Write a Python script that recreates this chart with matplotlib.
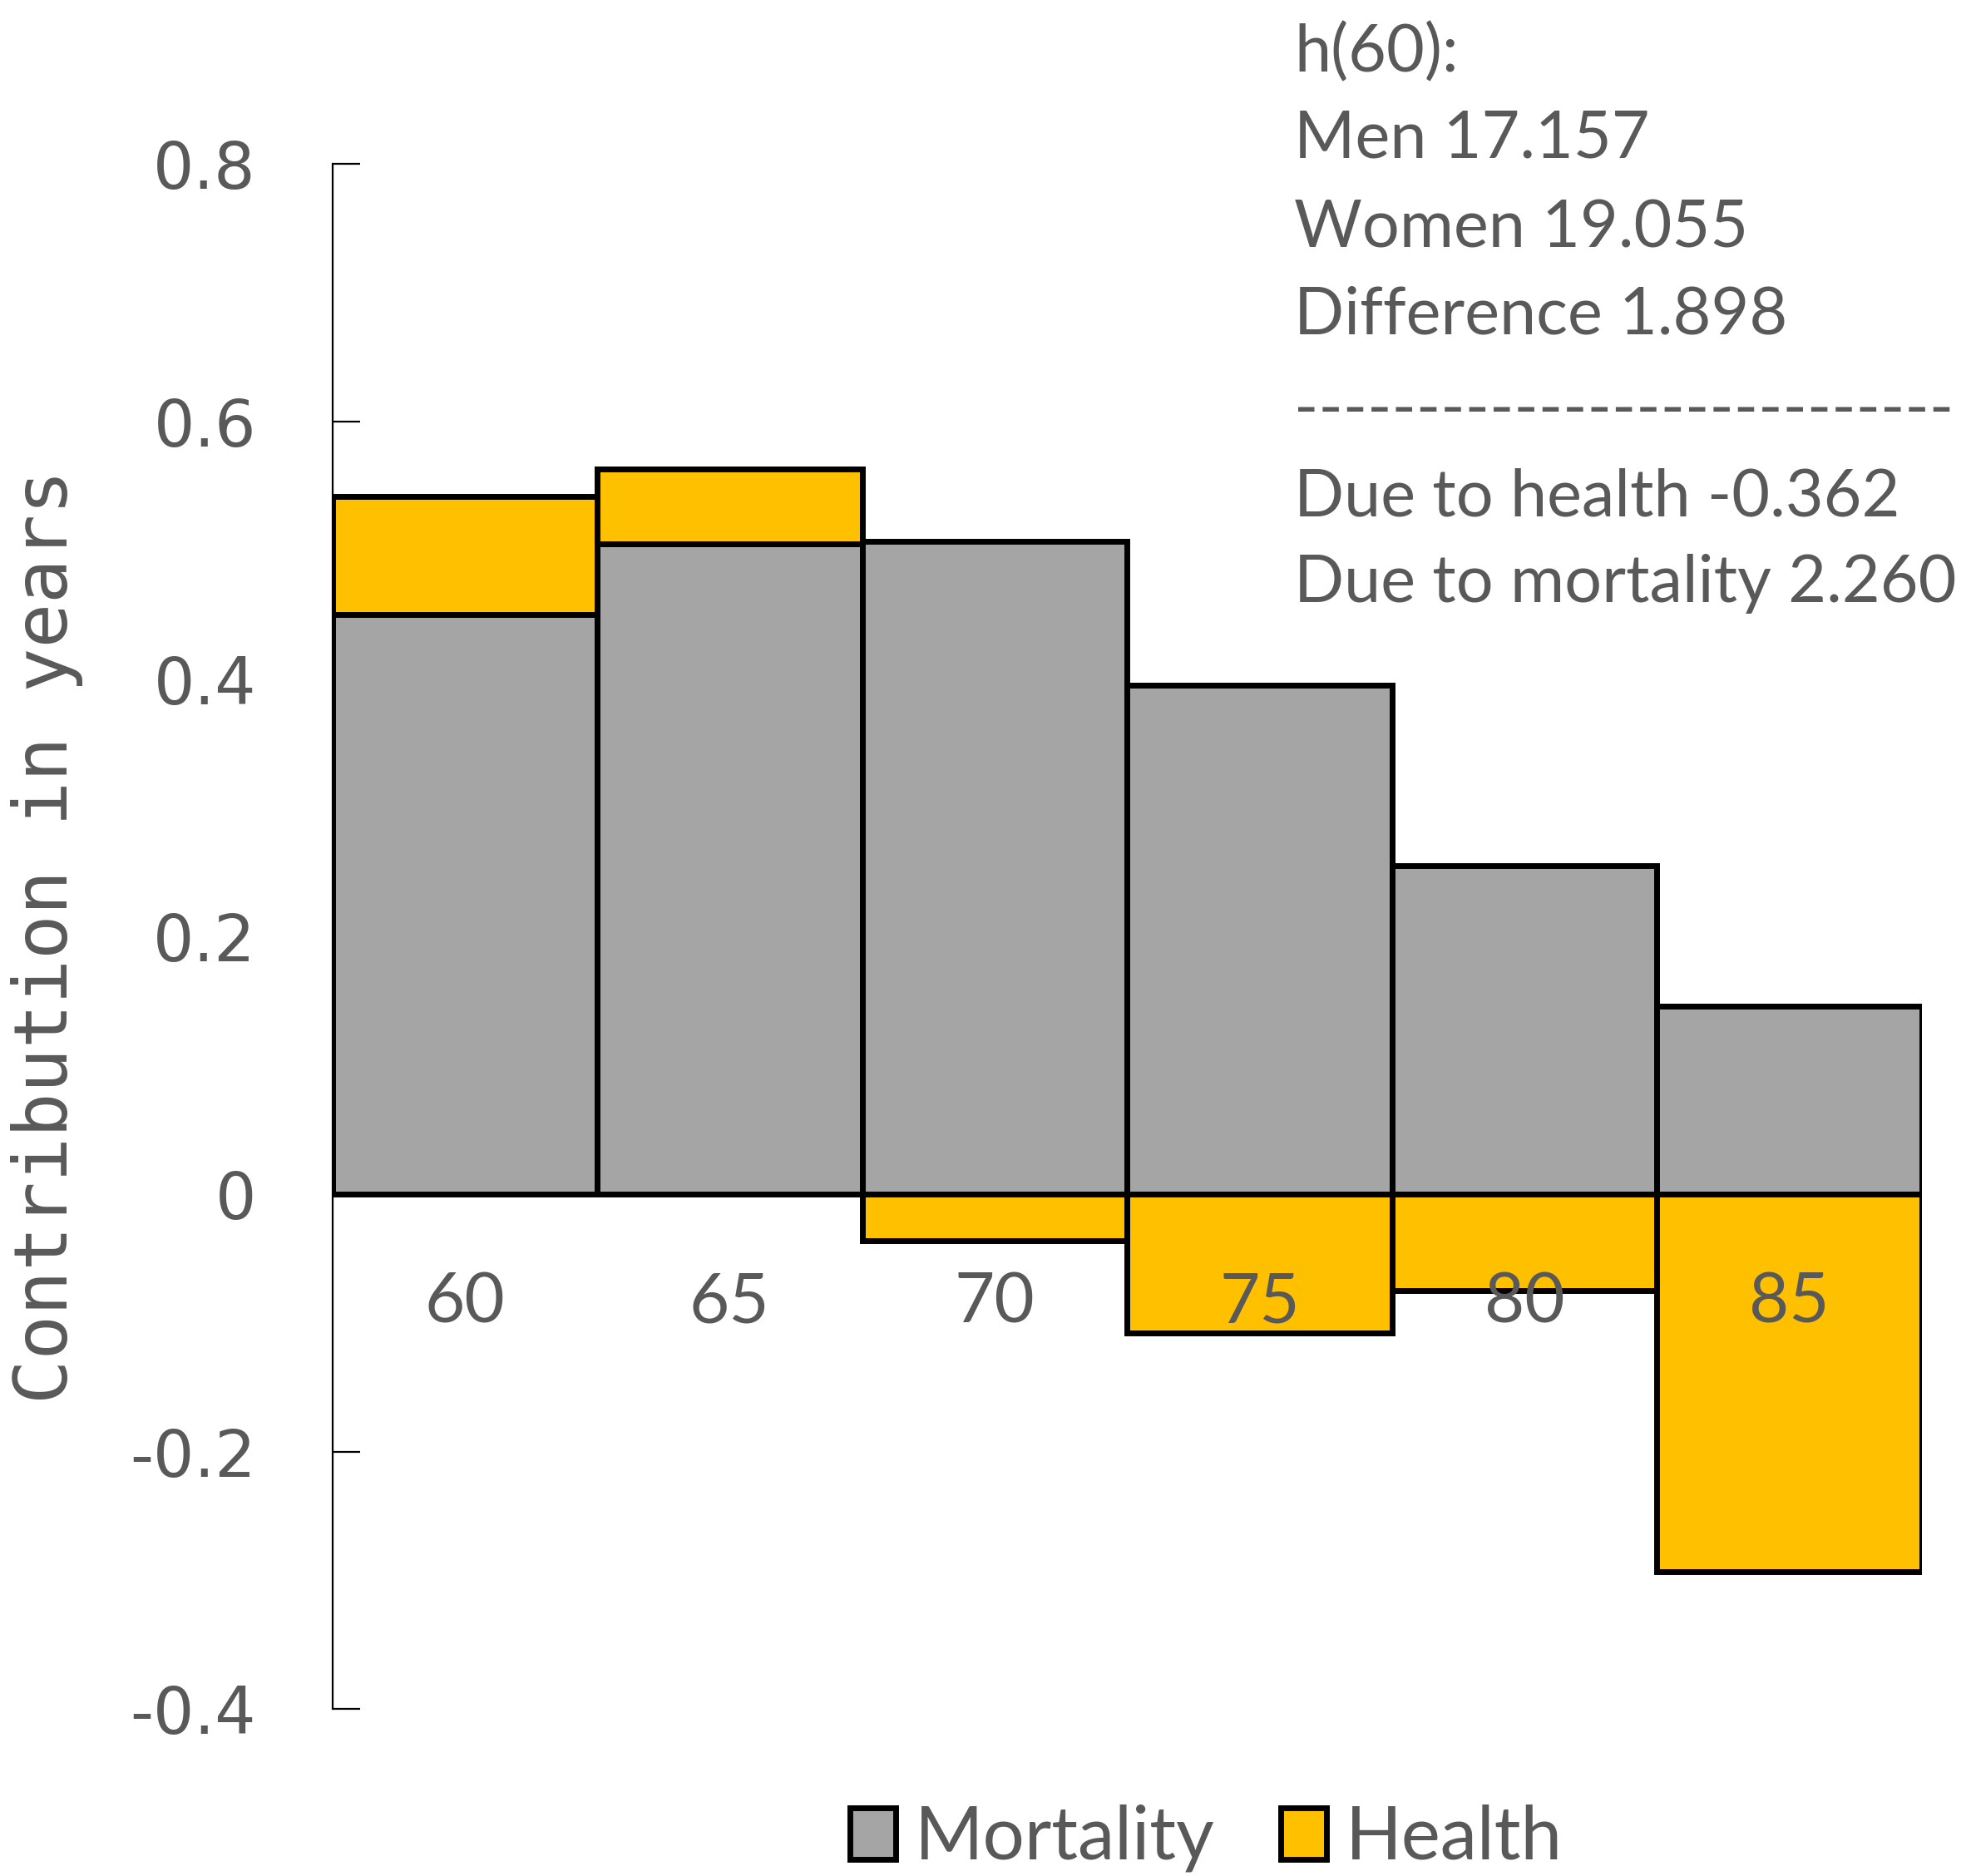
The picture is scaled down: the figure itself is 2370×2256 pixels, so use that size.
import numpy as np
import matplotlib
matplotlib.use("Agg")
import matplotlib.pyplot as plt
import matplotlib.patches as mpatches

# values (years)
ages = ["60", "65", "70", "75", "80", "85"]
mortality = [0.450, 0.505, 0.507, 0.395, 0.255, 0.146]
health = [0.092, 0.058, -0.036, -0.108, -0.075, -0.293]
y_ticks = [-0.4, -0.2, 0.0, 0.2, 0.4, 0.6, 0.8]
y_tick_labels = ["-0.4", "-0.2", "0", "0.2", "0.4", "0.6", "0.8"]
info_lines = [
    "h(60):",
    "Men 17.157",
    "Women 19.055",
    "Difference 1.898",
    "-" * 27,
    "Due to health -0.362",
    "Due to mortality 2.260",
]

GREY = "#A5A5A5"
GOLD = "#FFC000"
TXT = "#595959"
LW = 5

fig = plt.figure(figsize=(23.70, 22.56), dpi=100, facecolor="white")
ax = fig.add_axes([0.1686, 0.0889, 0.8064, 0.8236])

x = np.arange(len(ages))
mort = np.array(mortality)
hlth = np.array(health)
h_bottom = np.where(hlth > 0, mort, 0.0)

ax.bar(x, mort, width=1.0, color=GREY, edgecolor="black", linewidth=LW,
       label="Mortality", zorder=2)
ax.bar(x, hlth, width=1.0, bottom=h_bottom, color=GOLD, edgecolor="black",
       linewidth=LW, label="Health", zorder=2)

ax.set_xlim(-0.5, len(ages) - 0.5)
ax.set_ylim(-0.4, 0.8)

for sp in ["top", "right", "bottom"]:
    ax.spines[sp].set_visible(False)
ax.spines["left"].set_linewidth(1.6)
ax.spines["left"].set_zorder(1)

ax.set_xticks([])
ax.set_yticks(y_ticks)
ax.set_yticklabels(y_tick_labels, fontfamily="DejaVu Sans", fontsize=56, color=TXT)
ax.tick_params(axis="y", direction="in", length=24, width=1.6, pad=66)

# category labels sit just under the zero line, like Excel's "next to axis"
for xi, lab in zip(x, ages):
    ax.text(xi, -0.085, lab, ha="center", va="center", fontsize=60,
            fontfamily="Lato", color=TXT, zorder=5)

ax.set_ylabel("Contribution in years", fontfamily="DejaVu Sans Mono",
              fontsize=64, color=TXT)
ax.yaxis.set_label_coords(-0.157, 0.5)

# summary block in the upper right corner
ys = [0.9717, 0.9259, 0.8781, 0.8316, 0.7811, 0.7347, 0.6889]
for yy, line in zip(ys, info_lines):
    fig.text(0.6565, yy, line, ha="left", va="center", fontsize=57,
             fontfamily="Lato", color=TXT)

handles = [mpatches.Patch(facecolor=GREY, edgecolor="black", linewidth=LW),
           mpatches.Patch(facecolor=GOLD, edgecolor="black", linewidth=LW)]
leg = fig.legend(handles, ["Mortality", "Health"], loc="center",
                 bbox_to_anchor=(0.612, 0.02), ncol=2, frameon=False,
                 prop={"family": "Lato", "size": 64},
                 handlelength=0.62, handleheight=0.7, handletextpad=0.25,
                 columnspacing=0.9)
for t in leg.get_texts():
    t.set_color(TXT)

fig.savefig("out.png", dpi=100, facecolor="white")
